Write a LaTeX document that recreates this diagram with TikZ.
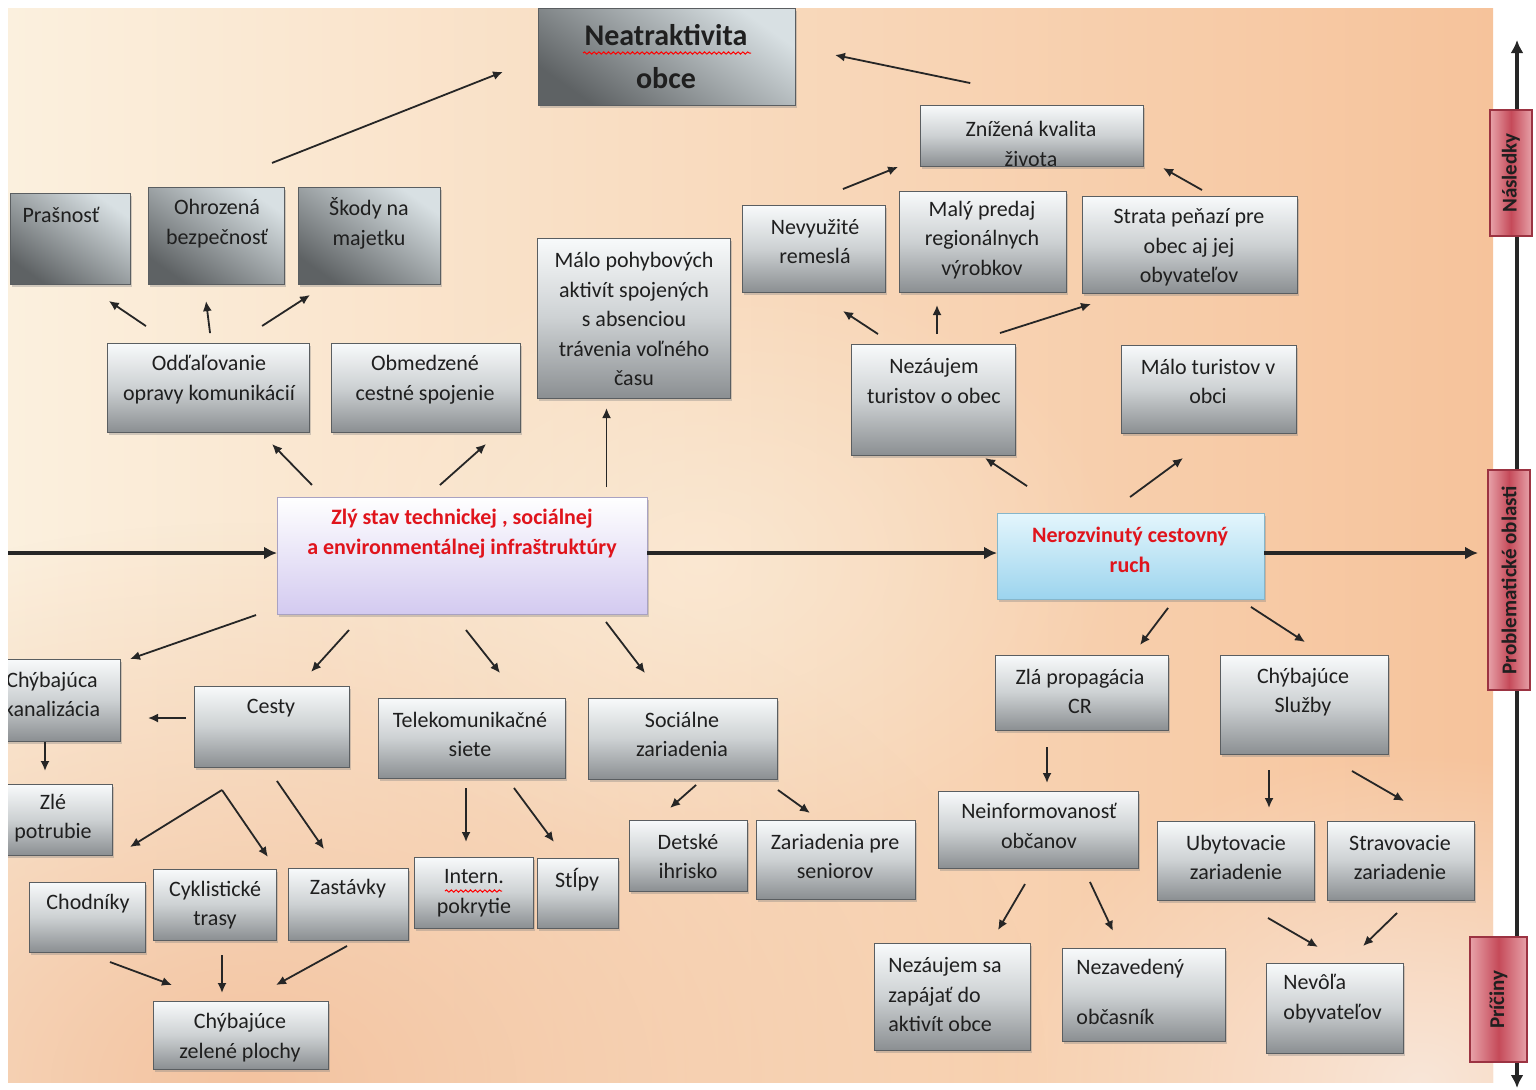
\documentclass[tikz,border=0pt]{standalone}
\usepackage{fontspec}
\setmainfont{Carlito}
\usetikzlibrary{arrows.meta,shadows,fadings,decorations.pathmorphing}
\definecolor{bgL}{HTML}{FBF0DE}
\definecolor{bgR}{HTML}{F6C39B}
\definecolor{bgB}{HTML}{F3C3A0}
\definecolor{bgC}{HTML}{F9E6D8}
\definecolor{gTop}{HTML}{F8FAFB}
\definecolor{gMid}{HTML}{CDD1D3}
\definecolor{gBot}{HTML}{8B8F92}
\definecolor{dLight}{HTML}{D8E0E3}
\definecolor{dDark}{HTML}{5E6264}
\definecolor{boxln}{HTML}{5A5E61}
\definecolor{txtc}{HTML}{1F1F1F}
\definecolor{redt}{HTML}{E0141C}
\definecolor{lavB}{HTML}{D3CAF0}
\definecolor{lavL}{HTML}{A9A2C2}
\definecolor{bluT}{HTML}{E4F6FC}
\definecolor{bluB}{HTML}{9CD4EE}
\definecolor{bluL}{HTML}{86B6CA}
\definecolor{redE}{HTML}{E7A2A9}
\definecolor{redM}{HTML}{C54A59}
\definecolor{redLn}{HTML}{9C3342}
\definecolor{arrc}{HTML}{262626}
\newcommand\fs{\fontsize{11}{14.75}\selectfont}
\tikzfading[name=radfade, inner color=transparent!0, outer color=transparent!100]
\begin{document}
\begin{tikzpicture}[x=0.5pt,y=-0.5pt,
  sz/.style 2 args={minimum width=#1*0.5pt, minimum height=#2*0.5pt},
  base/.style={anchor=north west, inner sep=0pt, outer sep=0pt, line width=0.5pt},
  shad/.style={drop shadow={shadow xshift=1.2pt, shadow yshift=-1.5pt, opacity=0.35}},
  gb/.style={base, shad, draw=boxln, top color=gTop, bottom color=gBot, middle color=gMid},
  db/.style={base, shad, draw=boxln, top color=dLight, bottom color=dDark, shading angle=-35},
  lavbox/.style={base, shad, draw=lavL, top color=white, bottom color=lavB},
  blubox/.style={base, shad, draw=bluL, top color=bluT, bottom color=bluB},
  redlab/.style={base, draw=redLn, line width=0.7pt, left color=redE, right color=redE, middle color=redM},
  tx/.style={font=\fs, text=txtc, align=center, inner sep=0pt},
  txl/.style={tx, align=left, anchor=west},
  big/.style={font=\fontsize{15}{21.5}\selectfont\bfseries, text=txtc, align=center, inner sep=0pt},
  redtx/.style={font=\fontsize{11}{15}\selectfont\bfseries, text=redt, align=center, inner sep=0pt},
  rt/.style={font=\fontsize{10.5}{12}\selectfont\bfseries, text=txtc, inner sep=0pt, rotate=90},
  arr/.style={draw=arrc, line width=0.9pt, -{Latex[length=5pt,width=4.5pt]}},
  mainln/.style={draw=arrc, line width=2.2pt, -{Latex[length=6.5pt,width=6.5pt]}},
  axisln/.style={draw=arrc, line width=2pt, {Latex[length=6.5pt,width=6.5pt]}-{Latex[length=6.5pt,width=6.5pt]}},
  wavy/.style={draw=red, line width=0.5pt, decorate, decoration={snake, amplitude=0.55pt, segment length=2.4pt}}
]
\useasboundingbox (0,0) rectangle (1536,1089);

% background
\begin{scope}
\clip (8,8) rectangle (1493,1082);
\shade[left color=bgL, right color=bgR] (8,8) rectangle (1493,1082);
\fill[bgB, path fading=radfade] (250,1082) ellipse [x radius=800, y radius=560];
\fill[bgC, path fading=radfade] (1420,1082) ellipse [x radius=420, y radius=330];
\fill[bgL, path fading=radfade, fill opacity=0.6] (700,560) ellipse [x radius=420, y radius=300];
\end{scope}

% vertical axis
\coordinate (vT) at (1517,40);
\coordinate (vB) at (1517,1088);
\draw[axisln] (vB) -- (vT);
\node[redlab, sz={42}{126}] (lnas) at (1490,110) {};
\node[redlab, sz={42}{220}] (lprob) at (1488,470) {};
\node[redlab, sz={57}{125}] (lpri) at (1470,937) {};
\node[rt] (lnas-t) at (lnas.center) {Následky};
\node[rt] (lprob-t) at (lprob.center) {Problematické oblasti};
\node[rt] (lpri-t) at (lpri.center) {Príčiny};

\begin{scope}
\clip (8,0) rectangle (1536,1089);
% boxes
\node[db, sz={257}{97}] (neat) at (538,8) {};
\node[gb, sz={223}{61}] (zniz) at (920,105) {};
\node[db, sz={120}{91}] (pras) at (10,193) {};
\node[db, sz={136}{97}] (ohr) at (148,187) {};
\node[db, sz={142}{97}] (skod) at (298,187) {};
\node[gb, sz={193}{160}] (malo) at (537,238) {};
\node[gb, sz={143}{87}] (nevy) at (742,205) {};
\node[gb, sz={167}{101}] (maly) at (899,191) {};
\node[gb, sz={215}{97}] (stra) at (1082,196) {};
\node[gb, sz={202}{89}] (odd) at (107,343) {};
\node[gb, sz={189}{89}] (obm) at (331,343) {};
\node[gb, sz={164}{111}] (nez) at (851,344) {};
\node[gb, sz={175}{88}] (malt) at (1121,345) {};
\node[lavbox, sz={370}{117}] (zly) at (277,497) {};
\node[blubox, sz={267}{86}] (ner) at (997,513) {};
\node[gb, sz={130}{82}] (kan) at (-10,659) {};
\node[gb, sz={155}{81}] (ces) at (194,686) {};
\node[gb, sz={187}{80}] (tel) at (378,698) {};
\node[gb, sz={189}{81}] (soc) at (588,698) {};
\node[gb, sz={122}{71}] (pot) at (-10,784) {};
\node[gb, sz={116}{70}] (cho) at (29,882) {};
\node[gb, sz={123}{71}] (cyk) at (153,869) {};
\node[gb, sz={120}{72}] (zas) at (288,868) {};
\node[gb, sz={119}{71}] (int) at (414,857) {};
\node[gb, sz={81}{70}] (stl) at (537,858) {};
\node[gb, sz={118}{71}] (det) at (629,820) {};
\node[gb, sz={159}{79}] (sen) at (756,820) {};
\node[gb, sz={175}{68}] (zel) at (153,1001) {};
\node[gb, sz={173}{75}] (prop) at (995,655) {};
\node[gb, sz={168}{99}] (sluz) at (1220,655) {};
\node[gb, sz={200}{77}] (inf) at (938,791) {};
\node[gb, sz={157}{79}] (uby) at (1157,821) {};
\node[gb, sz={147}{79}] (strv) at (1327,821) {};
\node[gb, sz={156}{107}] (nzs) at (874,943) {};
\node[gb, sz={163}{93}] (nzv) at (1062,948) {};
\node[gb, sz={137}{90}] (nev) at (1266,963) {};

% texts
\node[big] (neat-t) at (666,56.5) {Neatraktivita\\obce};
\begin{scope}
\clip (zniz.north west) rectangle (zniz.south east);
\node[tx] (zniz-t) at (1031,144) {Znížená kvalita\\života};
\end{scope}
\node[tx] (pras-t) at (61,215) {Prašnosť};
\node[tx] (ohr-t) at (217,223.5) {Ohrozená\\bezpečnosť};
\node[tx] (skod-t) at (369,223.5) {Škody na\\majetku};
\node[tx] (malo-t) at (634,319) {Málo pohybových\\aktivít spojených\\s absenciou\\trávenia voľného\\času};
\node[tx] (nevy-t) at (815,241.5) {Nevyužité\\remeslá};
\node[tx] (maly-t) at (982,240) {Malý predaj\\regionálnych\\výrobkov};
\node[tx] (stra-t) at (1189,247.5) {Strata peňazí pre\\obec aj jej\\obyvateľov};
\node[tx] (odd-t) at (209,379.5) {Odďaľovanie\\opravy komunikácií};
\node[tx] (obm-t) at (425,379.5) {Obmedzené\\cestné spojenie};
\node[tx] (nez-t) at (934,381) {Nezáujem\\turistov o obec};
\node[tx] (malt-t) at (1208,381.5) {Málo turistov v\\obci};
\node[redtx] (zly-t) at (462,534) {Zlý stav technickej , sociálnej\\a environmentálnej infraštruktúry};
\node[redtx] (ner-t) at (1130,549.5) {Nerozvinutý cestovný\\ruch};
\node[tx] (kan-t) at (52,694.5) {Chýbajúca\\kanalizácia};
\node[tx] (ces-t) at (271,708) {Cesty};
\node[tx] (tel-t) at (470,734.5) {Telekomunikačné\\siete};
\node[tx] (soc-t) at (682,734.5) {Sociálne\\zariadenia};
\node[tx] (pot-t) at (53,818) {Zlé\\potrubie};
\node[tx] (cho-t) at (88,904) {Chodníky};
\node[tx] (cyk-t) at (215,905) {Cyklistické\\trasy};
\node[tx] (zas-t) at (348,889) {Zastávky};
\node[tx] (int-t) at (474,893) {Intern.\\pokrytie};
\node[tx] (stl-t) at (577,880) {Stĺpy};
\node[tx] (det-t) at (688,856.5) {Detské\\ihrisko};
\node[tx] (sen-t) at (835,856.5) {Zariadenia pre\\seniorov};
\node[tx] (zel-t) at (240,1037.5) {Chýbajúce\\zelené plochy};
\node[tx] (prop-t) at (1080,691.5) {Zlá propagácia\\CR};
\node[tx] (sluz-t) at (1303,692) {Chýbajúce\\Služby};
\node[tx] (inf-t) at (1039,826) {Neinformovanosť\\občanov};
\node[tx] (uby-t) at (1236,857.5) {Ubytovacie\\zariadenie};
\node[tx] (strv-t) at (1400,857.5) {Stravovacie\\zariadenie};
\node[txl] (nzs-t) at (888,994.5) {Nezáujem sa\\zapájať do\\aktivít obce};
\node[txl] (nzv-t) at (1076,992) {Nezavedený\\[10pt]občasník};
\node[txl] (nev-t) at (1283,998.5) {Nevôľa\\obyvateľov};

% spell-check squiggles
\draw[wavy] (583,53) -- (751,53);
\draw[wavy] (445,891) -- (502,891);

% main axis line
\coordinate (mL) at (8,553);
\coordinate (mR) at (1478,553);
\draw[mainln] (mL) -- (zly.west |- mL);
\draw[mainln] (zly.east |- mL) -- (ner.west |- mL);
\draw[mainln] (ner.east |- mL) -- (mR);

% arrows
\draw[arr, shorten <=32.8pt, shorten >=18.8pt] (211,0 |- ohr.north) -- (neat.west |- 0,58);
\draw[arr, shorten <=54pt, shorten >=20.4pt] (1076,0 |- zniz.north) -- (neat.east |- 0,46.7);
\draw[arr, shorten <=21.5pt, shorten >=11.8pt] (803,0 |- nevy.north) -- (zniz.west |- 0,158.2);
\draw[arr, shorten <=6.1pt, shorten >=11.5pt] (1212.6,0 |- stra.north) -- (zniz.east |- 0,156.7);
\draw[arr, shorten <=15.1pt, shorten >=15.1pt] (171,0 |- odd.north) -- (83.8,0 |- pras.south);
\draw[arr, shorten <=5pt, shorten >=8.6pt] (211.3,0 |- odd.north) -- (203.9,0 |- ohr.south);
\draw[arr, shorten <=15.7pt, shorten >=10.1pt] (235.7,0 |- odd.north) -- (327,0 |- skod.south);
\draw[arr, shorten <=8.4pt, shorten >=8.4pt] (323.7,0 |- zly.north) -- (260.3,0 |- odd.south);
\draw[arr, shorten <=9pt, shorten >=9pt] (426.5,0 |- zly.north) -- (499.5,0 |- obm.south);
\draw[arr, shorten <=5pt, shorten >=5pt] (606.5,0 |- zly.north) -- (606.5,0 |- malo.south);
\draw[arr, shorten <=9.1pt, shorten >=17.3pt] (893.2,0 |- nez.north) -- (814,0 |- nevy.south);
\draw[arr, shorten <=5pt, shorten >=6.5pt] (937,0 |- nez.north) -- (937,0 |- maly.south);
\draw[arr, shorten <=18.1pt, shorten >=18.1pt] (965.5,0 |- nez.north) -- (1125.5,0 |- stra.south);
\draw[arr, shorten <=24.3pt, shorten >=2.7pt] (1067.5,0 |- ner.north) -- (980.5,0 |- nez.south);
\draw[arr, shorten <=13.5pt, shorten >=21.1pt] (1108.3,0 |- ner.north) -- (1217,0 |- malt.south);
\draw[arr, shorten <=11.1pt, shorten >=5.3pt] (zly.west |- 0,607.7) -- (kan.east |- 0,662.5);
\draw[arr, shorten <=10.8pt, shorten >=9.5pt] (363.5,0 |- zly.south) -- (298.3,0 |- ces.north);
\draw[arr, shorten <=10.2pt, shorten >=15.9pt] (453.3,0 |- zly.south) -- (519.8,0 |- tel.north);
\draw[arr, shorten <=5pt, shorten >=15.7pt] (599.9,0 |- zly.south) -- (664.1,0 |- soc.north);
\draw[arr, shorten <=4pt, shorten >=14pt] (ces.west |- 0,718) -- (kan.east |- 0,718);
\draw[arr, shorten <=0.5pt, shorten >=6.5pt] (45,0 |- kan.south) -- (45,0 |- pot.north);
\draw[arr, shorten <=21.8pt, shorten >=33.2pt] (259.1,0 |- ces.south) -- (73.5,0 |- cho.north);
\draw[arr, shorten <=14pt, shorten >=7.3pt] (206.2,0 |- ces.south) -- (276.2,0 |- cyk.north);
\draw[arr, shorten <=8.5pt, shorten >=11.5pt] (267.3,0 |- ces.south) -- (337.1,0 |- zas.north);
\draw[arr, shorten <=14.4pt, shorten >=23pt] (83,0 |- cho.south) -- (215.1,0 |- zel.north);
\draw[arr, shorten <=7.5pt, shorten >=4pt] (222,0 |- cyk.south) -- (222,0 |- zel.north);
\draw[arr, shorten <=6.2pt, shorten >=16.6pt] (357.9,0 |- zas.south) -- (246.9,0 |- zel.north);
\draw[arr, shorten <=5pt, shorten >=7.5pt] (466,0 |- tel.south) -- (466,0 |- int.north);
\draw[arr, shorten <=6.2pt, shorten >=10pt] (506.6,0 |- tel.south) -- (565.9,0 |- stl.north);
\draw[arr, shorten <=4.5pt, shorten >=9.1pt] (702.8,0 |- soc.south) -- (656.4,0 |- det.north);
\draw[arr, shorten <=9.4pt, shorten >=6pt] (762.7,0 |- soc.south) -- (819.7,0 |- sen.north);
\draw[arr, shorten <=5.6pt, shorten >=6.3pt] (1174.8,0 |- ner.south) -- (1132.4,0 |- prop.north);
\draw[arr, shorten <=7.3pt, shorten >=11.9pt] (1238.7,0 |- ner.south) -- (1325,0 |- sluz.north);
\draw[arr, shorten <=8.5pt, shorten >=4pt] (1047,0 |- prop.south) -- (1047,0 |- inf.north);
\draw[arr, shorten <=9.3pt, shorten >=7.5pt] (1034.4,0 |- inf.south) -- (990.4,0 |- nzs.north);
\draw[arr, shorten <=7.7pt, shorten >=9.4pt] (1083.4,0 |- inf.south) -- (1121,0 |- nzv.north);
\draw[arr, shorten <=8pt, shorten >=6.5pt] (1269,0 |- sluz.south) -- (1269,0 |- uby.north);
\draw[arr, shorten <=17pt, shorten >=20pt] (1322.5,0 |- sluz.south) -- (1438.7,0 |- strv.north);
\draw[arr, shorten <=17.9pt, shorten >=16pt] (1237,0 |- uby.south) -- (1345.6,0 |- nev.north);
\draw[arr, shorten <=9.3pt, shorten >=12.2pt] (1410.4,0 |- strv.south) -- (1345.5,0 |- nev.north);
\end{scope}
\end{tikzpicture}
\end{document}
